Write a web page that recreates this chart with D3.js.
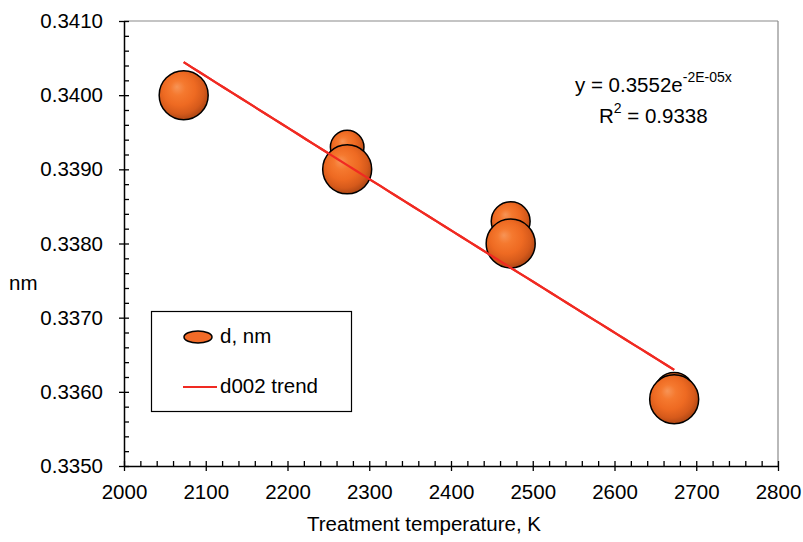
<!DOCTYPE html>
<html>
<head>
<meta charset="utf-8">
<script src="https://cdn.jsdelivr.net/npm/d3@7"></script>
<style>
  body { margin: 0; background: #fff; }
  svg text { font-family: "Liberation Sans", Arial, sans-serif; fill: #000; }
</style>
</head>
<body>
<div id="chart"></div>
<script>
// treatment temperature (K), interlayer spacing d002 (nm), bubble size
var tempK = [2073, 2273, 2273, 2473, 2473, 2673, 2673];
var dNm = [0.3400, 0.3393, 0.3390, 0.3383, 0.3380, 0.3360, 0.3359];
var bubbleSize = [100, 47, 100, 63, 100, 63, 100];
var xTicks = [2000, 2100, 2200, 2300, 2400, 2500, 2600, 2700, 2800];
var yTicks = [0.3350, 0.3360, 0.3370, 0.3380, 0.3390, 0.3400, 0.3410];

var W = 803, H = 542;
var plotL = 124, plotR = 778, plotT = 21, plotB = 466;
var fs = "20.5px";

var svg = d3.select("#chart").append("svg").attr("width", W).attr("height", H);

var x = d3.scaleLinear().domain([2000, 2800]).range([plotL, plotR]);
var y = d3.scaleLinear().domain([0.3350, 0.3410]).range([plotB, plotT]);
var r = d3.scaleSqrt().domain([0, 100]).range([0, 24.5]);

// bubble gradient
var defs = svg.append("defs");
var grad = defs.append("radialGradient").attr("id", "ball")
  .attr("cx", "0.45").attr("cy", "0.42").attr("r", "0.6")
  .attr("fx", "0.36").attr("fy", "0.33");
[["0%", "#f79456"], ["25%", "#f5792f"], ["55%", "#ee6a22"], ["80%", "#d65a1b"], ["100%", "#a94414"]]
  .forEach(function (s) { grad.append("stop").attr("offset", s[0]).attr("stop-color", s[1]); });

// grey frame top / right
svg.append("line").attr("x1", plotL).attr("x2", plotR).attr("y1", plotT).attr("y2", plotT)
  .attr("stroke", "#8a8a8a").attr("stroke-width", 1.2);
svg.append("line").attr("x1", plotR).attr("x2", plotR).attr("y1", plotT).attr("y2", plotB)
  .attr("stroke", "#8a8a8a").attr("stroke-width", 1.2);

// minor ticks
var xMinor = d3.range(2000, 2801, 20);
var yMinor = d3.range(0, 31).map(function (i) { return 0.3350 + i * 0.0002; });

svg.append("g").attr("transform", "translate(0," + plotB + ")")
  .call(d3.axisTop(x).tickValues(xMinor).tickSize(5).tickFormat(""))
  .call(function (g) { g.select(".domain").remove(); });
svg.append("g").attr("transform", "translate(" + plotL + ",0)")
  .call(d3.axisRight(y).tickValues(yMinor).tickSize(5).tickFormat(""))
  .call(function (g) { g.select(".domain").remove(); });

// major axes
var xAxis = svg.append("g").attr("transform", "translate(0," + plotB + ")")
  .call(d3.axisBottom(x).tickValues(xTicks).tickSize(5).tickSizeOuter(0).tickFormat(d3.format("d")).tickPadding(13));
var yAxis = svg.append("g").attr("transform", "translate(" + plotL + ",0)")
  .call(d3.axisLeft(y).tickValues(yTicks).tickSize(5).tickSizeOuter(0).tickFormat(d3.format(".4f")).tickPadding(16));
[xAxis, yAxis].forEach(function (g) {
  g.selectAll("text").style("font-size", fs).attr("fill", "#000");
  g.selectAll("line, path").attr("stroke", "#000").attr("stroke-width", 1.5);
});
svg.selectAll("g .tick line").attr("stroke", "#000").attr("stroke-width", 1.3);

// exponential trend fitted to the data (ln y = ln a + b x)
var n = tempK.length;
var mx = d3.mean(tempK), ml = d3.mean(dNm, function (v) { return Math.log(v); });
var sxy = 0, sxx = 0;
for (var i = 0; i < n; i++) {
  sxy += (tempK[i] - mx) * (Math.log(dNm[i]) - ml);
  sxx += (tempK[i] - mx) * (tempK[i] - mx);
}
var b = sxy / sxx, a = Math.exp(ml - b * mx);
var trendX = d3.range(d3.min(tempK), d3.max(tempK) + 1, 10);
var line = d3.line().x(function (t) { return x(t); }).y(function (t) { return y(a * Math.exp(b * t)); });
svg.append("path").datum(trendX).attr("d", line)
  .attr("fill", "none").attr("stroke", "#f02a22").attr("stroke-width", 2.2);

// bubbles
svg.append("g").selectAll("circle").data(tempK).enter().append("circle")
  .attr("cx", function (d) { return x(d); })
  .attr("cy", function (d, i) { return y(dNm[i]); })
  .attr("r", function (d, i) { return r(bubbleSize[i]); })
  .attr("fill", "url(#ball)")
  .attr("stroke", "#000").attr("stroke-width", 1.5);

// trend line drawn again over bubbles where it crosses them
svg.append("path").datum(trendX).attr("d", line)
  .attr("fill", "none").attr("stroke", "#f02a22").attr("stroke-width", 2.2);

// equation
var eq = svg.append("text").attr("x", 575).attr("y", 92).style("font-size", fs);
eq.append("tspan").text("y = 0.3552e");
eq.append("tspan").attr("dy", -10).style("font-size", "14px").text("-2E-05x");
var r2 = svg.append("text").attr("x", 599).attr("y", 123).style("font-size", fs);
r2.append("tspan").text("R");
r2.append("tspan").attr("dy", -10).style("font-size", "14px").text("2");
r2.append("tspan").attr("dy", 10).text(" = 0.9338");

// axis titles
svg.append("text").attr("x", 424).attr("y", 531).attr("text-anchor", "middle")
  .style("font-size", fs).text("Treatment temperature, K");
svg.append("text").attr("x", 9).attr("y", 290).style("font-size", fs).text("nm");

// legend
var lg = svg.append("g");
lg.append("rect").attr("x", 151.5).attr("y", 311.5).attr("width", 200).attr("height", 100)
  .attr("fill", "#fff").attr("stroke", "#000").attr("stroke-width", 1.2);
lg.append("ellipse").attr("cx", 198).attr("cy", 337).attr("rx", 14).attr("ry", 6)
  .attr("fill", "#f26b28").attr("stroke", "#000").attr("stroke-width", 1.5);
lg.append("text").attr("x", 220).attr("y", 343).style("font-size", fs).text("d, nm");
lg.append("line").attr("x1", 183).attr("x2", 217).attr("y1", 387).attr("y2", 387)
  .attr("stroke", "#f02a22").attr("stroke-width", 2.2);
lg.append("text").attr("x", 220).attr("y", 393).style("font-size", fs).text("d002 trend");
</script>
</body>
</html>
